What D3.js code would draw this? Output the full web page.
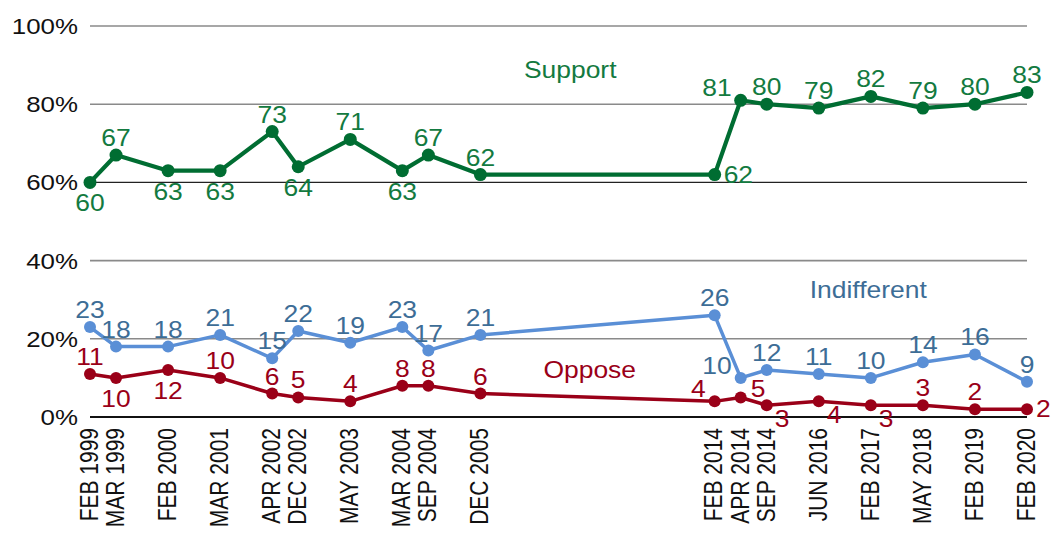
<!DOCTYPE html>
<html>
<head>
<meta charset="utf-8">
<script src="https://cdn.jsdelivr.net/npm/d3@7"></script>
<style>
  body { margin: 0; background: #fff; }
  text { font-family: "Liberation Sans", Arial, sans-serif; }
</style>
</head>
<body>
<svg id="chart"></svg>
<script>
// survey dates on an evenly spaced axis, blank slots keep the gaps
const slotLabels = ["FEB 1999", "MAR 1999", "", "FEB 2000", "", "MAR 2001", "", "APR  2002", "DEC 2002", "",
  "MAY 2003", "", "MAR 2004", "SEP 2004", "", "DEC 2005", "", "", "", "", "", "", "", "",
  "FEB 2014", "APR 2014", "SEP 2014", "", "JUN 2016", "", "FEB 2017", "", "MAY 2018", "", "FEB 2019", "", "FEB 2020"];

const support     = [60, 67, 63, 63, 73, 64, 71, 63, 67, 62, 62, 81, 80, 79, 82, 79, 80, 83];
const indifferent = [23, 18, 18, 21, 15, 22, 19, 23, 17, 21, 26, 10, 12, 11, 10, 14, 16, 9];
const oppose      = [11, 10, 12, 10, 6, 5, 4, 8, 8, 6, 4, 5, 3, 4, 3, 3, 2, 2];

const yTicks = [0, 20, 40, 60, 80, 100];

// where each value label sits relative to its point
const supportPos     = ['b','t','b','b','t','b','t','b','t','t','r','l','t','t','t','t','t','t'];
const indifferentPos = ['t','t','t','t','t','t','t','t','t','t','t','l','t','t','t','t','t','t'];
const opposePos      = ['t','b','b','t','t','t','t','t','t','t','l','tr','br','br','br','t','t','r'];

const w = 1051, h = 535;
const sx = 1.15; // glyphs in the original are a bit wide

let svg = d3.select('#chart').attr('width', w).attr('height', h);

let xScale = d3.scaleLinear().domain([0, slotLabels.length - 1]).range([90, 1027]);
let yScale = d3.scaleLinear().domain([0, 100]).range([417, 26]);

let slotIndex = slotLabels.map((d, i) => d ? i : -1).filter(i => i >= 0);

// grid
svg.append('g').selectAll('line')
  .data(yTicks)
  .join('line')
  .attr('x1', xScale(0))
  .attr('x2', xScale(slotLabels.length - 1))
  .attr('y1', d => yScale(d))
  .attr('y2', d => yScale(d))
  .attr('stroke', d => d === 0 ? '#111' : (d === 60 ? '#222' : '#8a8a8a'))
  .attr('stroke-width', d => d === 0 ? 2 : (d === 60 ? 1.2 : 1.6));

// y labels
svg.append('g').selectAll('text')
  .data(yTicks)
  .join('text')
  .attr('transform', d => `translate(78, ${yScale(d) + 8}) scale(${sx},1)`)
  .attr('text-anchor', 'end')
  .attr('font-size', 22.5)
  .attr('fill', '#111')
  .text(d => d + '%');

// x labels
svg.append('g').selectAll('text')
  .data(slotIndex)
  .join('text')
  .attr('transform', d => `translate(${xScale(d) - 1}, 428) scale(1.2,1) rotate(-90)`)
  .attr('text-anchor', 'end')
  .attr('dy', '0.35em')
  .attr('font-size', 21)
  .attr('fill', '#111')
  .text(d => slotLabels[d]);

let line = d3.line()
  .x(d => xScale(d.slot))
  .y(d => yScale(d.value));

function drawSeries(values, pos, lineColor, labelColor, width, r) {
  let data = values.map((v, i) => ({slot: slotIndex[i], value: v, pos: pos[i]}));
  let g = svg.append('g');

  g.append('path')
    .datum(data)
    .attr('d', line)
    .attr('fill', 'none')
    .attr('stroke', lineColor)
    .attr('stroke-width', width)
    .attr('stroke-linejoin', 'round');

  g.selectAll('circle')
    .data(data)
    .join('circle')
    .attr('cx', d => xScale(d.slot))
    .attr('cy', d => yScale(d.value))
    .attr('r', r)
    .attr('fill', lineColor);

  const off = {
    t:  [0, -9, 'middle'],
    b:  [0, 29, 'middle'],
    l:  [-9, -4, 'end'],
    r:  [9, 8, 'start'],
    tr: [10, 0, 'start'],
    br: [8, 22, 'start']
  };

  g.selectAll('text')
    .data(data)
    .join('text')
    .attr('transform', d => `translate(${xScale(d.slot) + off[d.pos][0]}, ${yScale(d.value) + off[d.pos][1]}) scale(${sx},1)`)
    .attr('text-anchor', d => off[d.pos][2])
    .attr('font-size', 23)
    .attr('fill', labelColor)
    .text(d => d.value);
}

drawSeries(indifferent, indifferentPos, '#5a8fd6', '#3d6d96', 3.5, 6);
drawSeries(oppose, opposePos, '#9a0018', '#9a0018', 3.5, 6);
drawSeries(support, supportPos, '#006d32', '#137a40', 4.2, 6.5);

// series names
function seriesName(text, slot, value, color) {
  svg.append('text')
    .attr('transform', `translate(${xScale(slot)}, ${yScale(value)}) scale(${sx},1)`)
    .attr('text-anchor', 'middle')
    .attr('font-size', 23)
    .attr('fill', color)
    .text(text);
}

seriesName('Support', 18.45, 86.7, '#137a40');
seriesName('Indifferent', 29.9, 30.4, '#3d6d96');
seriesName('Oppose', 19.2, 10, '#9a0018');
</script>
</body>
</html>
